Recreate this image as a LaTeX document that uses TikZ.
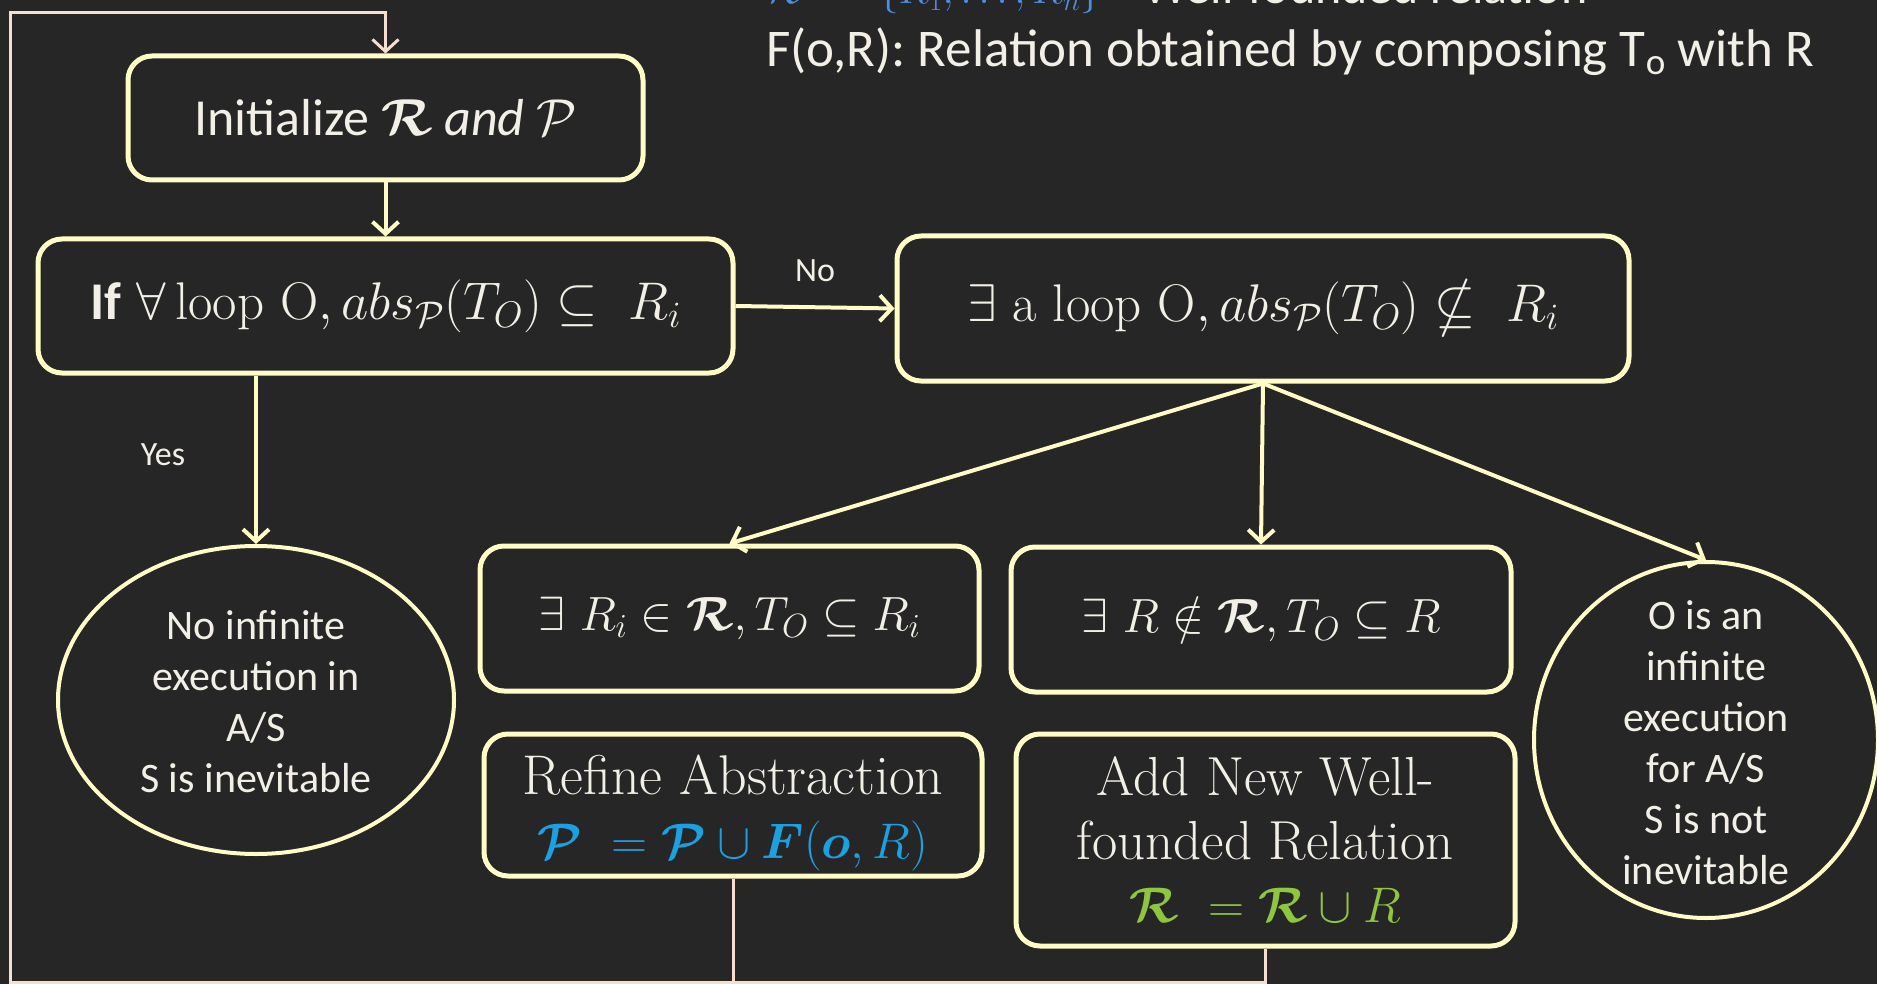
\RequirePackage{fix-cm}
\documentclass[tikz,border=0pt]{standalone}
\usepackage{amsmath,amssymb,bm}
\usepackage{fontspec}
\newfontfamily\carl{Carlito}
\usetikzlibrary{arrows.meta,shapes.geometric}
\definecolor{board}{HTML}{262626}
\definecolor{chalk}{HTML}{FFFCC6}
\definecolor{txt}{HTML}{F2F0E6}
\definecolor{loopc}{HTML}{F7DFCF}
\definecolor{blueF}{HTML}{1BA1E2}
\definecolor{greenR}{HTML}{8DC63F}
\definecolor{blueT}{HTML}{4A8FE0}
\tikzset{
  box/.style={draw=chalk, line width=5pt, rounded corners=24pt, text=txt, align=center, inner sep=0pt},
  oval/.style={draw=chalk, line width=4pt, ellipse, inner sep=0pt},
  ovaltext/.style={text=txt, align=center, inner sep=0pt, font=\carl\fontsize{42}{51}\selectfont},
  arr/.style={draw=chalk, line width=4pt, -{Straight Barb[length=12pt,width=26pt]}},
  loopline/.style={draw=loopc, line width=3pt},
  lbl/.style={text=txt, font=\carl\fontsize{34}{40}\selectfont},
  toptext/.style={anchor=base west, text=txt, inner sep=0pt, font=\carl\fontsize{53}{60}\selectfont}
}
\begin{document}
\begin{tikzpicture}[x=1pt,y=-1pt]
\useasboundingbox (0,0) rectangle (1877,984);
\clip (0,0) rectangle (1877,984);
\fill[board] (0,0) rectangle (1877,984);

\node[toptext, text=blueT, font=\fontsize{41}{48}\selectfont] (wfm) at (766,4) {$\mathcal{R}\ =\ \{R_1, \ldots, R_n\}$};
\node[toptext, font=\carl\fontsize{50}{60}\selectfont] (wf) at (1143,4) {Well-founded relation};
\node[toptext] (fo) at (766,67)
  {F(o,R): Relation obtained by composing T\textsubscript{o} with R};

\node[box, minimum width=515pt, minimum height=124pt, font=\carl\fontsize{52}{60}\selectfont] (init) at (385.5,118)
  {Initialize $\boldsymbol{\mathcal{R}}$ {\itshape and} $\mathcal{P}$};
\node[box, minimum width=695pt, minimum height=134pt, font=\fontsize{53}{60}\selectfont] (ifb) at (385.5,306)
  {{\carl\bfseries If} $\forall\,\mathrm{loop}\ \mathrm{O}, abs_{\mathcal{P}}(T_O) \subseteq\ R_i$};
\node[box, minimum width=732pt, minimum height=145pt, font=\fontsize{53}{60}\selectfont] (ex) at (1263,308.5)
  {$\exists\ \mathrm{a\ loop}\ \mathrm{O}, abs_{\mathcal{P}}(T_O) \nsubseteq\ R_i$};

\node[oval, minimum width=396pt, minimum height=308pt] (ell) at (256,700) {};
\node[ovaltext] (ellt) at (256,702) {No infinite\\execution in\\A/S\\S is inevitable};

\node[box, minimum width=499pt, minimum height=145pt, font=\fontsize{48}{56}\selectfont] (ri) at (729.5,618.5)
  {$\exists\ R_i \in \boldsymbol{\mathcal{R}}, T_O \subseteq R_i$};
\node[box, minimum width=500pt, minimum height=145pt, font=\fontsize{48}{56}\selectfont] (rn) at (1261,619.5)
  {$\exists\ R \notin \boldsymbol{\mathcal{R}}, T_O \subseteq R$};
\node[box, minimum width=498pt, minimum height=142pt, font=\fontsize{56}{64}\selectfont] (ref) at (733,805)
  {\rule{0pt}{56pt}Refine Abstraction\\{\fontsize{50}{64}\selectfont\color{blueF}$\boldsymbol{\mathcal{P}}\ = \boldsymbol{\mathcal{P}} \cup \boldsymbol{F}(\boldsymbol{o}, R)$}};
\node[box, minimum width=499pt, minimum height=212pt, font=\fontsize{55}{63.5}\selectfont] (add) at (1265.5,840)
  {Add New Well-\\founded Relation\\{\fontsize{50}{63.5}\selectfont\color{greenR}$\boldsymbol{\mathcal{R}}\ = \boldsymbol{\mathcal{R}} \cup R$}};

\node[oval, minimum width=344pt, minimum height=356pt] (circ) at (1706,740) {};
\node[ovaltext] (circt) at (1706,743) {O is an\\infinite\\execution\\for A/S\\S is not\\inevitable};

\draw[arr] (init.south) -- (ifb.north);
\draw[arr] (ifb.east) -- node[lbl, above=20pt] (no) {No} (ex.west);
\draw[arr] (ifb.south -| ell.north) -- (ell.north);
\node[lbl] (yes) at (163,455) {Yes};
\draw[arr] (ex.south) -- (ri.north);
\draw[arr] (ex.south) -- (rn.north);
\draw[arr] (ex.south) -- (circ.north);

\coordinate (bl) at (10,982);
\coordinate (tl) at (10,13);
\coordinate (tr) at (385.5,13);
\draw[loopline] (ref.south) -- (ref.south |- bl);
\draw[loopline, -{Straight Barb[length=12pt,width=26pt]}] (add.south) -- (add.south |- bl) -- (bl) -- (tl) -- (tr) -- (init.north);
\end{tikzpicture}
\end{document}
